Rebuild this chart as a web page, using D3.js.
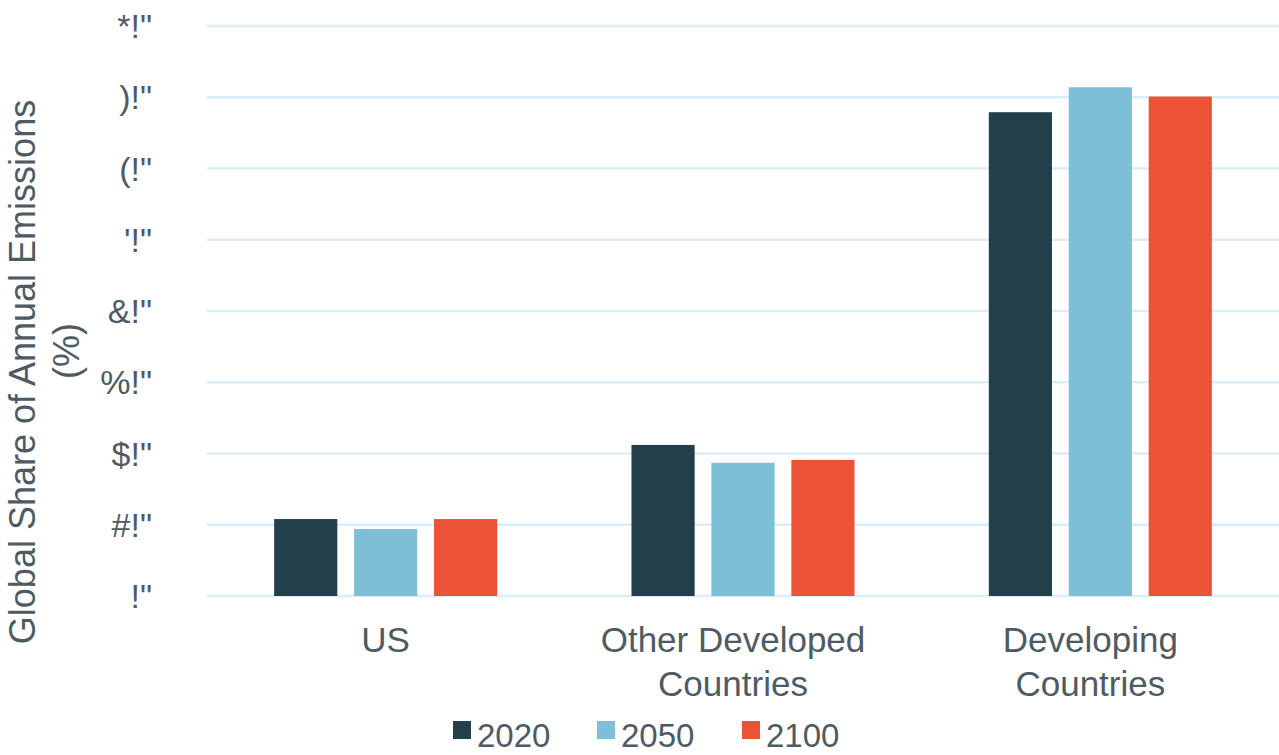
<!DOCTYPE html>
<html>
<head>
<meta charset="utf-8">
<script src="https://cdn.jsdelivr.net/npm/d3@7"></script>
<style>
  body { margin: 0; background: #fff; }
  svg { font-family: "Liberation Sans", Arial, sans-serif; }
</style>
</head>
<body>
<svg width="1279" height="755"></svg>
<script>
const categories = [['US'], ['Other Developed', 'Countries'], ['Developing', 'Countries']];
const years = ['2020', '2050', '2100'];
const values2020 = [10.8, 21.2, 67.9];
const values2050 = [9.4, 18.7, 71.4];
const values2100 = [10.8, 19.1, 70.1];
const tickValues = [0, 10, 20, 30, 40, 50, 60, 70, 80];
const tickLabels = ['!"', '#!"', '$!"', '%!"', '&!"', '\'!"', '(!"', ')!"', '*!"'];
const colors = ['#223f4b', '#7dbfd6', '#ec5238'];

const series = [values2020, values2050, values2100];
const textColor = '#4f5b62';
const svg = d3.select('svg');

const catKeys = categories.map(c => c.join(' '));
const x0 = d3.scaleBand().domain(catKeys).range([207, 1279]);
const x1 = d3.scaleBand().domain(years).range([0, x0.bandwidth()])
  .paddingInner(0.21).paddingOuter(0.84);
const y = d3.scaleLinear().domain([0, 80]).range([596, 26]);

// gridlines
svg.append('g').selectAll('line')
  .data(tickValues)
  .join('line')
  .attr('x1', 207).attr('x2', 1279)
  .attr('y1', d => y(d)).attr('y2', d => y(d))
  .attr('stroke', '#dbedf5')
  .attr('stroke-width', 2.5);

// y tick labels
svg.append('g').selectAll('text')
  .data(tickValues)
  .join('text')
  .attr('x', 152)
  .attr('y', d => y(d) + 12)
  .attr('text-anchor', 'end')
  .attr('font-size', 34)
  .attr('fill', textColor)
  .text((d, i) => tickLabels[i]);

// y title (two lines)
svg.append('text')
  .attr('transform', 'translate(35,372) rotate(-90)')
  .attr('text-anchor', 'middle')
  .attr('font-size', 36)
  .attr('fill', textColor)
  .text('Global Share of Annual Emissions');
svg.append('text')
  .attr('transform', 'translate(79,351) rotate(-90)')
  .attr('text-anchor', 'middle')
  .attr('font-size', 36)
  .attr('fill', textColor)
  .text('(%)');

// bars
const groups = svg.append('g').selectAll('g')
  .data(catKeys)
  .join('g')
  .attr('transform', d => `translate(${x0(d)},0)`);

groups.selectAll('rect')
  .data((d, i) => years.map((yr, j) => ({ yr, v: series[j][i], c: colors[j] })))
  .join('rect')
  .attr('x', d => x1(d.yr))
  .attr('width', x1.bandwidth())
  .attr('y', d => y(d.v))
  .attr('height', d => y(0) - y(d.v))
  .attr('fill', d => d.c);

// x labels
const xl = svg.append('g').selectAll('text')
  .data(categories)
  .join('text')
  .attr('text-anchor', 'middle')
  .attr('font-size', 35)
  .attr('fill', textColor);
xl.selectAll('tspan')
  .data((d, i) => d.map(t => ({
    t,
    cx: x0(catKeys[i]) + x0.bandwidth() / 2 - (d.length > 1 ? 10 : 0)
  })))
  .join('tspan')
  .attr('x', d => d.cx)
  .attr('y', (d, i) => 652 + i * 44)
  .text(d => d.t);

// legend
const legendX = [453, 597, 742];
const lg = svg.append('g').selectAll('g')
  .data(years)
  .join('g')
  .attr('transform', (d, i) => `translate(${legendX[i]},721)`);
lg.append('rect')
  .attr('width', 18).attr('height', 18)
  .attr('fill', (d, i) => colors[i]);
lg.append('text')
  .attr('x', 24).attr('y', 26)
  .attr('font-size', 33)
  .attr('fill', textColor)
  .text(d => d);
</script>
</body>
</html>
